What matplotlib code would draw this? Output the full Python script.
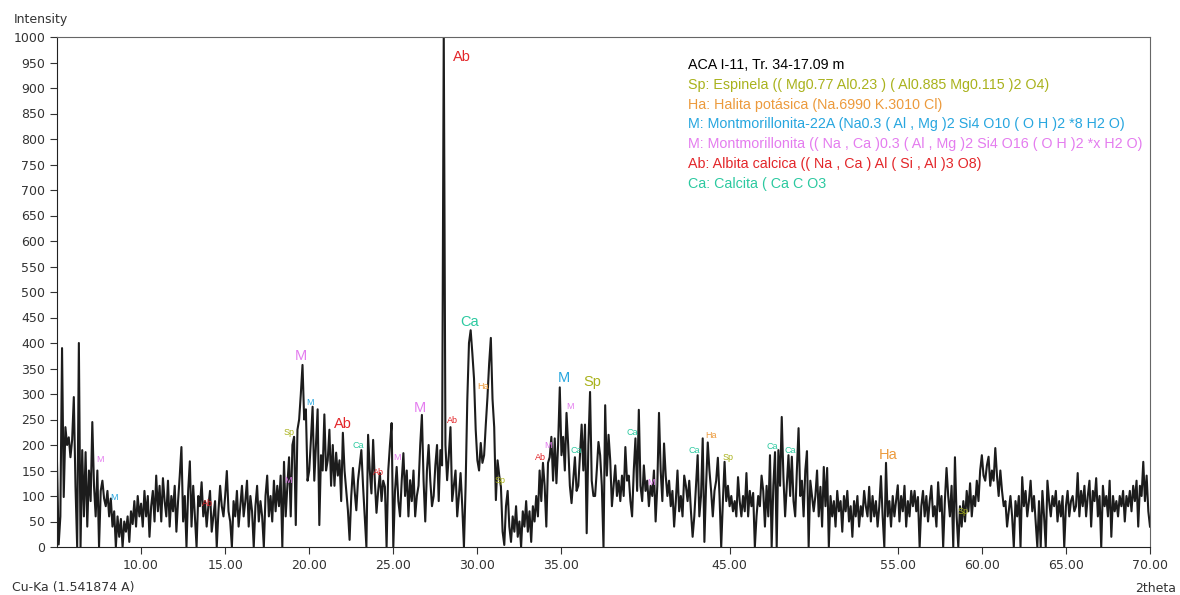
import numpy as np
import matplotlib
matplotlib.use('Agg')
import matplotlib.pyplot as plt

# 2theta grid: 5.0 .. 70.0 step 0.1, one row of intensities per degree
theta_start = 5.0
theta_step = 0.1
rows = [
    [165, 5, 60, 390, 98, 235, 200, 215, 176, 210],       # 5
    [294, 118, 0, 400, 0, 190, 60, 186, 40, 150],         # 6
    [90, 245, 120, 60, 150, 0, 110, 130, 95, 80],         # 7
    [110, 60, 95, 40, 70, 0, 60, 20, 55, 0],              # 8
    [50, 30, 60, 10, 70, 45, 90, 40, 100, 60],            # 9
    [85, 40, 110, 60, 100, 20, 80, 110, 50, 140],         # 10
    [70, 120, 50, 135, 90, 60, 130, 40, 100, 70],         # 11
    [120, 30, 90, 140, 196, 50, 100, 0, 110, 168],        # 12
    [40, 120, 60, 0, 100, 80, 127, 60, 90, 40],           # 13
    [80, 110, 30, 60, 90, 0, 70, 120, 80, 60],            # 14
    [100, 149, 70, 50, 0, 90, 60, 110, 40, 80],           # 15
    [120, 60, 90, 130, 40, 100, 70, 0, 80, 120],          # 16
    [50, 90, 60, 0, 100, 140, 60, 100, 50, 130],          # 17
    [70, 120, 80, 140, 0, 167, 60, 120, 176, 60],         # 18
    [200, 216, 43, 230, 250, 300, 357, 250, 270, 130],    # 19
    [150, 210, 275, 130, 200, 270, 43, 180, 150, 260],    # 20
    [150, 170, 230, 120, 200, 120, 185, 140, 170, 90],    # 21
    [224, 150, 110, 72, 14, 100, 155, 110, 72, 130],      # 22
    [160, 190, 120, 60, 0, 220, 150, 105, 210, 130],      # 23
    [67, 110, 145, 90, 130, 118, 0, 150, 200, 243],       # 24
    [0, 110, 157, 90, 60, 130, 184, 100, 150, 60],        # 25
    [131, 90, 150, 60, 100, 120, 200, 259, 130, 50],      # 26
    [150, 200, 130, 80, 100, 160, 200, 90, 190, 160],     # 27
    [1010, 200, 131, 180, 235, 90, 120, 150, 60, 100],    # 28
    [145, 80, 0, 120, 288, 400, 425, 380, 330, 230],      # 29
    [170, 150, 204, 165, 180, 240, 294, 360, 410, 290],   # 30
    [235, 92, 170, 140, 118, 30, 4, 80, 110, 40],         # 31
    [10, 60, 30, 80, 20, 50, 0, 70, 40, 90],              # 32
    [30, 70, 10, 80, 50, 100, 60, 150, 90, 165],          # 33
    [120, 40, 165, 176, 216, 130, 213, 125, 200, 313],    # 34
    [180, 216, 150, 263, 200, 120, 86, 130, 176, 110],    # 35
    [120, 180, 240, 150, 240, 27, 200, 304, 130, 100],    # 36
    [100, 150, 206, 180, 120, 0, 278, 140, 220, 170],     # 37
    [80, 120, 160, 100, 130, 90, 140, 100, 196, 130],     # 38
    [140, 90, 60, 150, 213, 110, 269, 120, 90, 160],      # 39
    [110, 130, 80, 120, 100, 150, 50, 120, 263, 150],     # 40
    [90, 203, 140, 100, 130, 80, 110, 40, 90, 150],       # 41
    [70, 100, 60, 140, 120, 90, 130, 70, 20, 60],         # 42
    [120, 180, 60, 100, 213, 10, 120, 205, 150, 110],     # 43
    [60, 110, 130, 175, 100, 0, 90, 167, 90, 120],        # 44
    [80, 100, 70, 90, 60, 137, 90, 60, 100, 70],          # 45
    [145, 60, 110, 80, 106, 0, 60, 100, 80, 140],         # 46
    [110, 40, 120, 60, 180, 0, 120, 186, 0, 190],         # 47
    [120, 255, 137, 60, 120, 180, 100, 177, 90, 60],      # 48
    [150, 233, 100, 130, 60, 150, 188, 0, 130, 100],      # 49
    [70, 100, 150, 60, 118, 40, 157, 80, 155, 0],         # 50
    [100, 60, 90, 40, 110, 70, 90, 30, 100, 70],          # 51
    [110, 50, 80, 20, 90, 60, 100, 40, 80, 60],           # 52
    [110, 80, 60, 118, 50, 100, 60, 90, 40, 80],          # 53
    [139, 60, 0, 165, 60, 90, 40, 100, 60, 90],           # 54
    [121, 50, 100, 70, 120, 40, 90, 60, 110, 80],         # 55
    [110, 70, 98, 0, 80, 110, 60, 100, 50, 90],           # 56
    [120, 60, 80, 40, 127, 70, 100, 0, 90, 155],          # 57
    [100, 60, 120, 0, 176, 60, 0, 80, 40, 90],            # 58
    [50, 110, 70, 125, 60, 100, 80, 130, 90, 150],        # 59
    [180, 140, 130, 160, 177, 120, 150, 130, 194, 140],   # 60
    [100, 150, 110, 80, 90, 40, 70, 100, 60, 0],          # 61
    [90, 60, 100, 0, 137, 80, 110, 60, 90, 130],          # 62
    [70, 100, 50, 0, 90, 0, 110, 60, 0, 130],             # 63
    [90, 60, 100, 80, 110, 50, 90, 60, 100, 0],           # 64
    [80, 110, 60, 90, 100, 70, 80, 145, 60, 110],         # 65
    [80, 120, 60, 100, 130, 40, 110, 90, 135, 60],        # 66
    [100, 0, 120, 80, 100, 60, 130, 20, 100, 70],         # 67
    [90, 60, 100, 80, 110, 50, 100, 80, 110, 70],         # 68
    [120, 90, 130, 40, 120, 100, 167, 90, 140, 70],       # 69
]
last_value = [40]  # 70.0

intensity = np.array([v for r in rows for v in r] + last_value, dtype=float)
two_theta = theta_start + theta_step * np.arange(len(intensity))

# phase labels on the peaks: (text, 2theta, intensity, colour)
c_sp, c_ha, c_mc, c_mm, c_ab, c_ca = '#a9b21c', '#ec9a3c', '#27a6df', '#e47cef', '#e3262a', '#2cc9a0'
big_labels = [
    ('M', 19.52, 375, c_mm), ('Ab', 22.02, 241, c_ab), ('M', 26.6, 272, c_mm),
    ('Ab', 29.05, 961, c_ab), ('Ca', 29.52, 441, c_ca), ('M', 35.12, 331, c_mc),
    ('Sp', 36.85, 324, c_sp), ('Ha', 54.4, 180, c_ha),
]
small_labels = [
    ('M', 7.56, 171, c_mm), ('M', 8.4, 98, c_mc), ('Ab', 13.93, 86, c_ab),
    ('Sp', 18.8, 225, c_sp), ('M', 18.75, 131, c_mm), ('M', 20.06, 284, c_mc),
    ('Ca', 22.92, 200, c_ca), ('Ab', 24.1, 147, c_ab), ('M', 25.2, 175, c_mm),
    ('Ab', 28.5, 249, c_ab), ('Ha', 30.36, 314, c_ha), ('Sp', 31.37, 131, c_sp),
    ('Ab', 33.75, 176, c_ab), ('M', 34.2, 200, c_mm), ('M', 35.48, 276, c_mm),
    ('Ca', 35.9, 190, c_ca), ('Ca', 39.2, 224, c_ca), ('M', 40.3, 127, c_mm),
    ('Ca', 42.9, 190, c_ca), ('Ha', 43.87, 218, c_ha), ('Sp', 44.88, 176, c_sp),
    ('Ca', 47.56, 198, c_ca), ('Ca', 48.6, 190, c_ca), ('Sp', 58.9, 69, c_sp),
]

legend_lines = [
    ('ACA I-11, Tr. 34-17.09 m', 'black'),
    ('Sp: Espinela (( Mg0.77 Al0.23 ) ( Al0.885 Mg0.115 )2 O4)', c_sp),
    ('Ha: Halita potásica (Na.6990 K.3010 Cl)', c_ha),
    ('M: Montmorillonita-22A (Na0.3 ( Al , Mg )2 Si4 O10 ( O H )2 *8 H2 O)', c_mc),
    ('M: Montmorillonita (( Na , Ca )0.3 ( Al , Mg )2 Si4 O16 ( O H )2 *x H2 O)', c_mm),
    ('Ab: Albita calcica (( Na , Ca ) Al ( Si , Al )3 O8)', c_ab),
    ('Ca: Calcita ( Ca C O3', c_ca),
]

x_ticks = [10, 15, 20, 25, 30, 35, 45, 55, 60, 65, 70]
y_ticks = list(range(0, 1001, 50))

plt.rcParams['font.family'] = ['DejaVu Sans']
fig = plt.figure(figsize=(11.8, 5.95), dpi=100)
ax = fig.add_axes([57 / 1180, 48 / 595, 1093 / 1180, 510 / 595])

ax.plot(two_theta, intensity, color='#1c1c1c', lw=1.5)
ax.set_xlim(5, 70)
ax.set_ylim(0, 1000)
ax.set_xticks(x_ticks)
ax.set_xticklabels(['%.2f' % t for t in x_ticks])
ax.set_yticks(y_ticks)
ax.tick_params(labelsize=9, length=5, color='#333333', labelcolor='#333333')
for side in ['top', 'right']:
    ax.spines[side].set_color('#666666')
for side in ['left', 'bottom']:
    ax.spines[side].set_color('#222222')

for txt, x, y, col in big_labels:
    ax.text(x, y, txt, color=col, fontsize=10.5, ha='center', va='center',
            family='Liberation Sans')
for txt, x, y, col in small_labels:
    ax.text(x, y, txt, color=col, fontsize=6.5, ha='center', va='center',
            family='Liberation Sans')

for i, (txt, col) in enumerate(legend_lines):
    fig.text(688 / 1180, 1 - (65 + 19.8 * i) / 595, txt, color=col, fontsize=10.3,
             ha='left', va='center', family='Liberation Sans')

fig.text(14 / 1180, 1 - 20 / 595, 'Intensity', fontsize=9, color='#333333', va='center')
fig.text(12 / 1180, 1 - 588 / 595, 'Cu-Ka (1.541874 A)', fontsize=9, color='#333333', va='center')
fig.text(1176 / 1180, 1 - 588 / 595, '2theta', fontsize=9, color='#333333', va='center', ha='right')

fig.savefig('out.png', dpi=100)
